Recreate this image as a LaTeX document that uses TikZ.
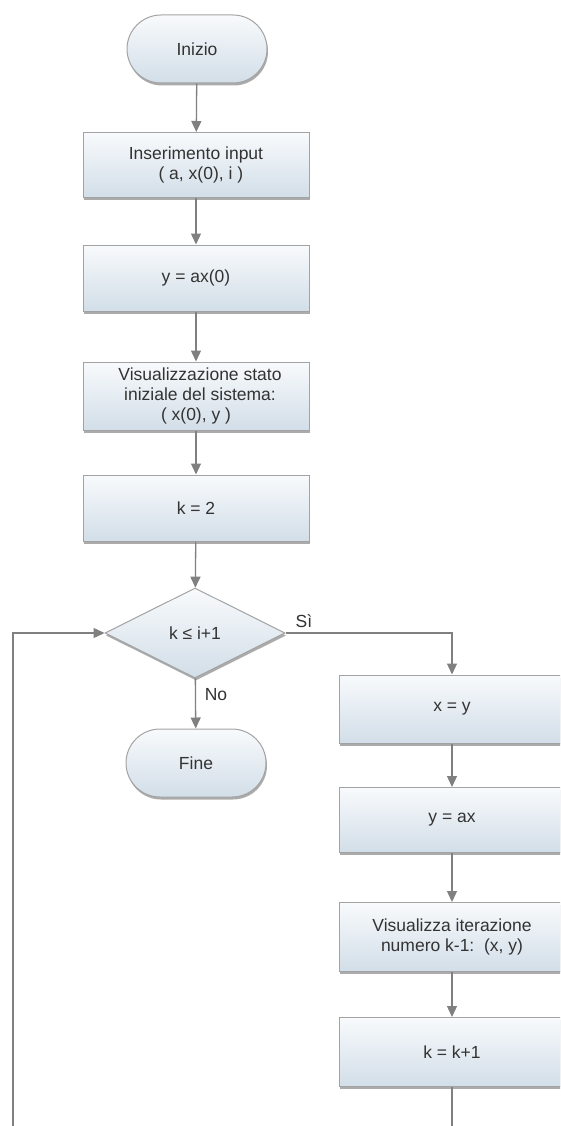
\documentclass[tikz,border=0pt]{standalone}
\usepackage{fontspec}
\setmainfont{Liberation Sans}
\usetikzlibrary{shapes.geometric,shapes.misc,arrows.meta,shadows}

\definecolor{edgegray}{HTML}{A3A3A3}
\definecolor{linegray}{HTML}{808080}
\definecolor{textgray}{HTML}{333333}
\definecolor{filltop}{HTML}{F8FAFC}
\definecolor{fillbot}{HTML}{D2DEE8}

\begin{document}
\begin{tikzpicture}[x=1pt,y=-1pt,
  font=\fontsize{17.5}{20}\selectfont,
  shapebase/.style={draw=edgegray, line width=1pt, text=textgray,
    top color=filltop, bottom color=fillbot, align=center, inner sep=0pt,
    drop shadow={shadow xshift=1pt, shadow yshift=-2.5pt, fill=black!55, opacity=0.6}},
  term/.style={shapebase, rounded rectangle, minimum width=140pt, minimum height=68pt},
  proc/.style={shapebase, rectangle, minimum width=226pt, minimum height=66pt},
  decision/.style={shapebase, diamond, aspect=2, minimum width=180pt, minimum height=90pt},
  flow/.style={draw=linegray, line width=1.3pt},
  arr/.style={flow, -{Triangle[length=11pt, width=10pt, fill=linegray]}},
  lbl/.style={text=textgray, inner sep=0pt}
]
\useasboundingbox (0,0) rectangle (560,1126);
\clip (0,0) rectangle (560,1126);

% main column
\node[term] (start) at (197,49) {Inizio};
\node[proc, minimum height=65pt] (inp) at (196,165) {Inserimento input\\\ \ ( a, x(0), i )};
\node[proc] (yax0) at (196,278) {y = ax(0)};
\node[proc, minimum height=68pt] (vis0) at (196,396) {\hspace*{8pt}Visualizzazione stato\\\hspace*{8pt}iniziale del sistema:\\( x(0), y )};
\node[proc] (k2) at (196,508) {k = 2};
\node[decision] (cond) at (195,633) {k ≤ i+1};
\node[term] (end) at (196,763) {Fine};

% loop body
\node[proc, minimum height=68pt] (xy) at (452,709) {x = y};
\node[proc, minimum height=65pt] (yax) at (452,820) {y = ax};
\node[proc, minimum height=69pt] (visk) at (452,937) {Visualizza iterazione\\numero k-1:\ \ (x, y)};
\node[proc, minimum height=69pt] (kinc) at (452,1052) {k = k+1};

% branch labels
\node[lbl] (si) at (304,621) {Sì};
\node[lbl] (no) at (216,695) {No};

% free ends of the return path
\coordinate (loopbot) at (13,1130);
\coordinate (rightbot) at (452,1130);

% connectors
\draw[arr] (start) -- (inp);
\draw[arr] (inp) -- (yax0);
\draw[arr] (yax0) -- (vis0);
\draw[arr] (vis0) -- (k2);
\draw[arr] (k2) -- (cond);
\draw[arr] (cond) -- (end);
\draw[arr] (cond.east) -| (xy.north);
\draw[arr] (xy) -- (yax);
\draw[arr] (yax) -- (visk);
\draw[arr] (visk) -- (kinc);
\draw[flow] (kinc) -- (rightbot);
\draw[arr] (loopbot) |- (cond.west);
\end{tikzpicture}
\end{document}
